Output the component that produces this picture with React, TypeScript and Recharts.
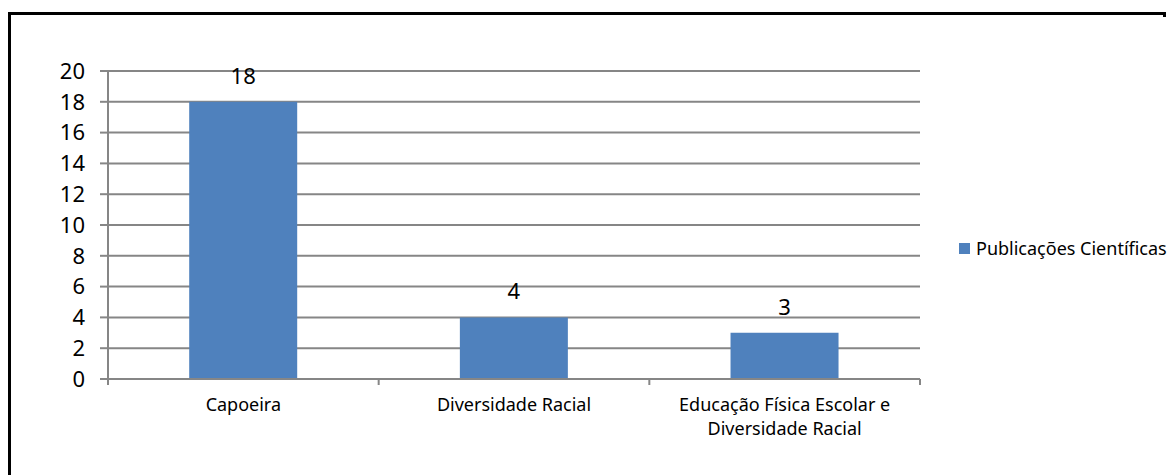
import React from 'react';
import { BarChart, Bar, XAxis, YAxis, CartesianGrid, LabelList, Legend, Text } from 'recharts';

const categories = ['Capoeira', 'Diversidade Racial', 'Educação Física Escolar e Diversidade Racial'];
const publicacoes = [18, 4, 3];
const yTicks = [0, 2, 4, 6, 8, 10, 12, 14, 16, 18, 20];
const seriesName = 'Publicações Científicas';

const data = categories.map((name, i) => ({ name, value: publicacoes[i] }));

const W = 1173;
const H = 475;
const M = { top: 71, right: 253, bottom: 0, left: 0 };
const Y_W = 108;
const X_H = 96;
const FONT = '"Noto Sans", sans-serif';
const GRAY = '#868686';
const BLUE = '#4F81BD';
const TICK = 6;
const GAP = 13;

const plotWidth = W - M.left - M.right - Y_W;
const band = plotWidth / categories.length;

const CategoryTick = (props: any) => {
  const { x, y, payload, index } = props;
  const axisY = y - TICK - GAP;
  const half = band / 2;
  return (
    <g>
      <line x1={x - half} x2={x - half} y1={axisY} y2={axisY + TICK} stroke={GRAY} strokeWidth={2} />
      {index === categories.length - 1 && (
        <line x1={x + half} x2={x + half} y1={axisY} y2={axisY + TICK} stroke={GRAY} strokeWidth={2} />
      )}
      <Text
        x={x}
        y={y}
        width={230}
        textAnchor="middle"
        verticalAnchor="start"
        lineHeight={24}
        fontSize={18}
        fontFamily={FONT}
        fill="#000"
      >
        {payload.value}
      </Text>
    </g>
  );
};

const LegendBox = () => (
  <div style={{ display: 'flex', alignItems: 'center', fontFamily: FONT, fontSize: 18, color: '#000', whiteSpace: 'nowrap' }}>
    <span style={{ width: 11, height: 11, background: BLUE, display: 'inline-block', marginRight: 6 }} />
    {seriesName}
  </div>
);

export default function App() {
  return (
    <div style={{ position: 'absolute', left: 0, top: 0, width: W, height: H, background: '#fff', overflow: 'hidden' }}>
      <div
        style={{
          position: 'absolute',
          left: 8,
          top: 12,
          width: 1155,
          height: 600,
          borderLeft: '3px solid #000',
          borderTop: '3px solid #000',
        }}
      />
      <div style={{ position: 'absolute', left: 1163, top: 12, width: 3, height: 5, background: '#000' }} />
      <BarChart
        width={W}
        height={H}
        data={data}
        margin={M}
        barCategoryGap="30%"
        style={{ position: 'absolute', left: 0, top: 0 }}
      >
        <CartesianGrid vertical={false} stroke={GRAY} strokeWidth={2} />
        <XAxis
          dataKey="name"
          height={X_H}
          interval={0}
          axisLine={{ stroke: GRAY, strokeWidth: 2 }}
          tickLine={false}
          tickSize={TICK}
          tickMargin={GAP}
          tick={<CategoryTick />}
        />
        <YAxis
          width={Y_W}
          domain={[0, 20]}
          ticks={yTicks}
          interval={0}
          axisLine={{ stroke: GRAY, strokeWidth: 2 }}
          tickLine={{ stroke: GRAY, strokeWidth: 2 }}
          tickSize={8}
          tickMargin={15}
          tick={{ fontSize: 22, fontFamily: FONT, fill: '#000' }}
        />
        <Legend
          layout="vertical"
          align="center"
          verticalAlign="middle"
          content={<LegendBox />}
          wrapperStyle={{ left: 959, top: 236, width: 214 }}
        />
        <Bar dataKey="value" name={seriesName} fill={BLUE} isAnimationActive={false}>
          <LabelList dataKey="value" position="top" offset={18} fontSize={22} fontFamily={FONT} fill="#000" />
        </Bar>
      </BarChart>
    </div>
  );
}
